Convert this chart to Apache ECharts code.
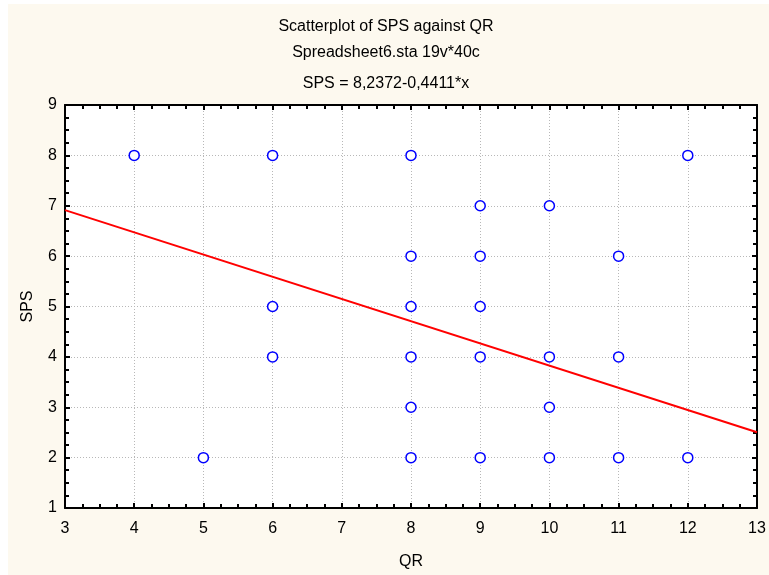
<!DOCTYPE html>
<html>
<head>
<meta charset="utf-8">
<script src="https://cdn.jsdelivr.net/npm/echarts@6/dist/echarts.min.js"></script>
<style>
html,body{margin:0;padding:0;background:#ffffff;}
#chart{width:769px;height:575px;}
</style>
</head>
<body>
<div id="chart"></div>
<script>
// ---- data ----
const qr  = [4, 6, 8, 12, 9, 10, 8, 9, 11, 6, 8, 9, 6, 8, 9, 10, 11, 8, 10, 5, 8, 9, 10, 11, 12];
const sps = [8, 8, 8, 8,  7, 7,  6, 6, 6,  5, 5, 5, 4, 4, 4, 4,  4,  3, 3,  2, 2, 2, 2,  2,  2];
const fitIntercept = 8.2372;
const fitSlope = -0.4411;
const xRange = [3, 13];
const yRange = [1, 9];
const titleLines = ["Scatterplot of SPS against QR", "Spreadsheet6.sta 19v*40c", "SPS = 8,2372-0,4411*x"];
const xName = "QR";
const yName = "SPS";

const points = qr.map((x, i) => [x, sps[i]]);
const fitLine = xRange.map(x => [x, fitIntercept + fitSlope * x]);

const FONT = "Liberation Sans, Arial, sans-serif";
const chart = echarts.init(document.getElementById('chart'), null, {renderer: 'canvas'});

const gridLine = {show: true, lineStyle: {color: '#b8b8b8', width: 1, type: [1, 2]}};
const axisLine = {show: true, onZero: false, lineStyle: {color: '#000', width: 2}};

chart.setOption({
  backgroundColor: '#ffffff',
  animation: false,
  graphic: [
    {type: 'rect', z: -10, shape: {x: 8, y: 4, width: 761, height: 571}, style: {fill: '#FDF9EF'}},
    {type: 'text', x: 386, y: 27, style: {text: titleLines[0], font: '16px ' + FONT, fill: '#000', align: 'center', verticalAlign: 'middle'}},
    {type: 'text', x: 386, y: 53, style: {text: titleLines[1], font: '16px ' + FONT, fill: '#000', align: 'center', verticalAlign: 'middle'}},
    {type: 'text', x: 386, y: 84, style: {text: titleLines[2], font: '16px ' + FONT, fill: '#000', align: 'center', verticalAlign: 'middle'}}
  ],
  grid: {left: 65, right: 12, top: 105, bottom: 65, show: true, backgroundColor: '#ffffff', borderWidth: 0},
  xAxis: [
    {
      type: 'value', min: xRange[0], max: xRange[1], interval: 1,
      name: xName, nameLocation: 'middle', nameGap: 46,
      nameTextStyle: {fontFamily: FONT, fontSize: 16, color: '#000'},
      axisLine: axisLine,
      axisTick: {show: true, inside: true, length: 5, lineStyle: {color: '#000', width: 2}},
      minorTick: {show: true, splitNumber: 4, length: 4, lineStyle: {color: '#000', width: 2}},
      axisLabel: {fontFamily: FONT, fontSize: 16, color: '#000', margin: 13},
      splitLine: gridLine
    },
    {
      type: 'value', position: 'top', min: xRange[0], max: xRange[1], interval: 1,
      axisLine: axisLine,
      axisTick: {show: true, inside: true, length: 5, lineStyle: {color: '#000', width: 2}},
      minorTick: {show: true, splitNumber: 4, length: 4, lineStyle: {color: '#000', width: 2}},
      axisLabel: {show: false}, splitLine: {show: false}
    }
  ],
  yAxis: [
    {
      type: 'value', min: yRange[0], max: yRange[1], interval: 1,
      name: yName, nameLocation: 'middle', nameGap: 29,
      nameTextStyle: {fontFamily: FONT, fontSize: 16, color: '#000'},
      axisLine: axisLine,
      axisTick: {show: true, inside: true, length: 5, lineStyle: {color: '#000', width: 2}},
      minorTick: {show: true, splitNumber: 4, length: 4, lineStyle: {color: '#000', width: 2}},
      axisLabel: {fontFamily: FONT, fontSize: 16, color: '#000', margin: 8},
      splitLine: gridLine
    },
    {
      type: 'value', position: 'right', min: yRange[0], max: yRange[1], interval: 1,
      axisLine: axisLine,
      axisTick: {show: true, inside: true, length: 5, lineStyle: {color: '#000', width: 2}},
      minorTick: {show: true, splitNumber: 4, length: 4, lineStyle: {color: '#000', width: 2}},
      axisLabel: {show: false}, splitLine: {show: false}
    }
  ],
  series: [
    {
      type: 'line', data: fitLine, xAxisIndex: 0, yAxisIndex: 0,
      symbol: 'none', lineStyle: {color: '#ff0000', width: 2}, z: 2, silent: true
    },
    {
      type: 'scatter', data: points, xAxisIndex: 0, yAxisIndex: 0,
      symbol: 'circle', symbolSize: 10,
      itemStyle: {color: '#ffffff', borderColor: '#0000ff', borderWidth: 1.5, opacity: 1}, z: 3
    }
  ]
});
</script>
</body>
</html>
